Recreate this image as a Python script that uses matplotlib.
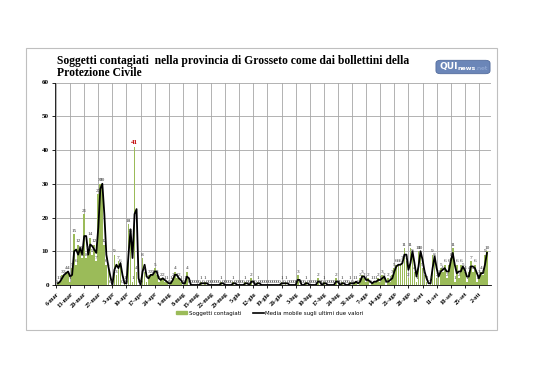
import datetime as dt
import matplotlib
matplotlib.use("Agg")
import matplotlib.pyplot as plt
import numpy as np
import pandas as pd
from matplotlib.patches import Rectangle, FancyBboxPatch

# dati giornalieri dal 6 marzo al 6 ottobre
start_date = dt.date(2020, 3, 6)
marzo = [0, 1, 1, 3, 3, 4, 4, 1, 5, 15, 6, 12, 10, 8, 21, 8, 10, 14, 9, 12, 7, 27, 30, 30, 12, 6]
aprile = [5, 0, 0, 9, 3, 7, 6, 0, 1, 0, 18, 15, 1, 41, 4, 0, 0, 8, 4, 1, 3, 3, 3, 5, 3, 1, 2, 2, 1, 1]
maggio = [0, 1, 2, 4, 2, 2, 1, 0, 1, 4, 0, 0, 0, 0, 0, 0, 1, 0, 1, 0,
          0, 0, 0, 0, 0, 0, 1, 0, 0, 0, 0]
giugno = [0, 1, 0, 0, 0, 0, 0, 1, 0, 0, 2, 0, 0, 1, 0, 0, 0, 0, 0, 0,
          0, 0, 0, 0, 0, 1, 0, 1, 0, 0]
luglio = [0, 0, 0, 3, 0, 0, 0, 1, 0, 0, 0, 0, 0, 2, 0, 0, 1, 0, 0, 0,
          0, 0, 2, 0, 0, 1, 0, 0, 0, 1, 0]
agosto = [1, 1, 0, 2, 3, 2, 1, 2, 0, 1, 1, 1, 2, 1, 3, 2, 0, 2, 1, 3,
          5, 6, 6, 6, 7, 11, 7, 2, 11, 9, 4]
settembre = [1, 10, 10, 5, 3, 1, 0, 1, 9, 8, 2, 3, 5, 4, 6, 2, 6, 8, 11, 1,
             6, 2, 6, 5, 4, 1, 4, 7, 4, 6]
ottobre = [1, 3, 4, 3, 9, 10]

mesi = ["gen", "feb", "mar", "apr", "mag", "giu", "lug", "ago", "set", "ott", "nov", "dic"]

contagiati = np.array(marzo + aprile + maggio + giugno + luglio + agosto + settembre + ottobre)
giorni = np.arange(len(contagiati))
media = pd.Series(contagiati).rolling(2).mean()

tick_pos = np.arange(0, len(contagiati), 7)
tick_lab = []
for p in tick_pos:
    d = start_date + dt.timedelta(days=int(p))
    tick_lab.append(f"{d.day}-{mesi[d.month - 1]}")

serif = "Liberation Serif"

fig = plt.figure(figsize=(5.38, 3.8), dpi=100)
fig.patch.set_facecolor("white")

# cornice del grafico
fig.patches.append(Rectangle((26 / 538, 1 - 330 / 380), 471 / 538, 282 / 380,
                             transform=fig.transFigure, fill=False,
                             edgecolor="#bfbfbf", linewidth=0.8))

ax = fig.add_axes([55 / 538, 95 / 380, 436 / 538, 202.5 / 380])
ax.bar(giorni, contagiati, width=0.85, color="#9BBB59", zorder=2)
ax.plot(giorni, media, color="black", linewidth=1.3, zorder=3)

for x, v in zip(giorni, contagiati):
    if v == 41:
        ax.text(x, v + 0.6, str(v), ha="center", va="bottom", fontsize=5,
                color="#C00000", fontweight="bold", family=serif, zorder=4)
    else:
        ax.text(x, v + 0.4, str(v), ha="center", va="bottom", fontsize=3.8,
                color="#333333", family=serif, zorder=4)

ax.set_xlim(-0.5, 216)
ax.set_ylim(0, 60)
ax.set_yticks(np.arange(0, 61, 10))
ax.set_xticks(tick_pos)
ax.set_xticklabels(tick_lab, rotation=45, ha="right", rotation_mode="anchor",
                   fontsize=4.5, family=serif, fontweight="bold")
for lab in ax.get_yticklabels():
    lab.set_family(serif)
    lab.set_fontweight("bold")
    lab.set_fontsize(5)
ax.tick_params(axis="both", length=2.5, width=0.6, pad=2)
ax.grid(True, color="#a6a6a6", linewidth=0.6, zorder=0)
ax.set_axisbelow(True)
for s in ["top", "right"]:
    ax.spines[s].set_visible(False)
ax.spines["left"].set_linewidth(0.6)
ax.spines["bottom"].set_linewidth(0.6)

fig.text(57 / 538, 1 - 55 / 380,
         "Soggetti contagiati  nella provincia di Grosseto come dai bollettini della\nProtezione Civile",
         ha="left", va="top", fontsize=8.4, fontweight="bold", family=serif,
         linespacing=1.05)

# logo
fig.patches.append(FancyBboxPatch((437 / 538, 1 - 73 / 380), 52 / 538, 12 / 380,
                                  boxstyle="round,pad=0.002,rounding_size=0.008",
                                  transform=fig.transFigure,
                                  facecolor="#6b86b8", edgecolor="#4a6496", linewidth=0.5))
fig.text(440 / 538, 1 - 67 / 380, "QUI", color="white", fontsize=6.5, fontweight="bold",
         ha="left", va="center")
fig.text(458 / 538, 1 - 68 / 380, "news", color="white", fontsize=4.5, fontweight="bold",
         ha="left", va="center")
fig.text(475 / 538, 1 - 68 / 380, ".net", color="#9fb4dc", fontsize=4.5,
         ha="left", va="center")

handles = [Rectangle((0, 0), 1, 1, color="#9BBB59"),
           plt.Line2D([0], [0], color="black", linewidth=1.2)]
fig.legend(handles, ["Soggetti contagiati", "Media mobile sugli ultimi due valori"],
           loc="center", bbox_to_anchor=(270 / 538, 1 - 313 / 380), ncol=2,
           frameon=False, fontsize=4, handlelength=2.0, handleheight=0.6,
           columnspacing=2.0, handletextpad=0.3)

fig.savefig("out.png", dpi=100)
